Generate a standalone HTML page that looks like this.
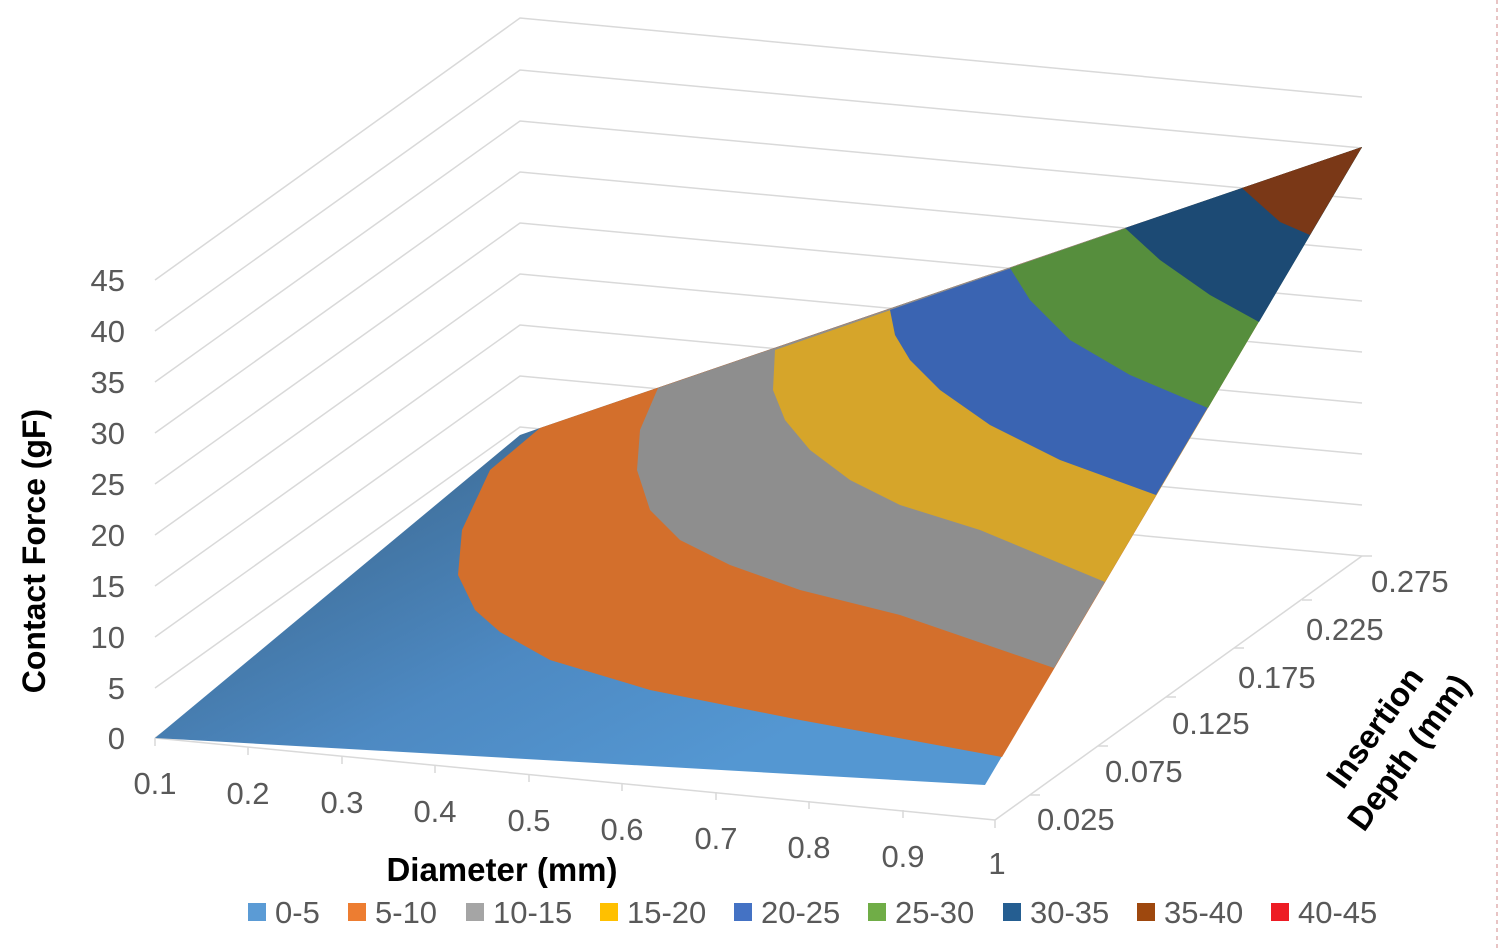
<!DOCTYPE html>
<html><head><meta charset="utf-8"><style>
body{margin:0;background:#fff}
svg{display:block}
text{font-family:"Liberation Sans",sans-serif}
</style></head><body>
<svg width="1500" height="948" viewBox="0 0 1500 948" xmlns="http://www.w3.org/2000/svg">
<defs>
<linearGradient id="bl" x1="520" y1="435" x2="700" y2="780" gradientUnits="userSpaceOnUse">
<stop offset="0" stop-color="#41729f"/><stop offset="0.5" stop-color="#4d89c2"/><stop offset="1" stop-color="#5497d2"/>
</linearGradient>
</defs>
<g stroke="#d9d9d9" stroke-width="1.5" fill="none">
<polyline points="155,280 520,18 1362,97"/>
<polyline points="155,331 520,70 1362,148"/>
<polyline points="155,382 520,121 1362,199"/>
<polyline points="155,433 520,172 1362,250"/>
<polyline points="155,484 520,223 1362,301"/>
<polyline points="155,535 520,274 1362,352"/>
<polyline points="155,586 520,325 1362,403"/>
<polyline points="155,637 520,376 1362,454"/>
<polyline points="155,688 520,427 1362,505"/>
<polyline points="155,738 520,478 1362,556"/>
<line x1="155" y1="738" x2="995" y2="820"/>
<line x1="995" y1="820" x2="1362" y2="556"/>
<path d="M155,738v8M248,747v8M342,756v8M435,765v8M529,774v8M622,783v8M716,792v8M809,801v8M903,810v8M995,820v8"/>
<path d="M1030,795h10M1098,746h10M1166,697h10M1234,648h10M1302,600h10M1362,556h10"/>
</g>
<!-- surface -->
<polygon points="155,738 520,435 540,428 1362,147 985,785" fill="url(#bl)"/>
<polygon points="540,428 490,470 462,530 458,575 475,610 500,632 550,660 650,690 800,720 1002,757 1362,147" fill="#d36f2c"/>
<polygon points="658,388 640,430 637,470 650,510 680,540 730,565 800,590 900,615 1054,668 1362,147" fill="#8e8e8e"/>
<polygon points="775,350 773,390 785,420 810,450 850,480 900,505 980,530 1105,582 1362,147" fill="#d6a52a"/>
<polygon points="890,310 895,335 910,360 940,390 990,425 1060,460 1156,495 1362,147" fill="#3a64b2"/>
<polygon points="1010,268 1030,300 1070,340 1130,375 1208,408 1362,147" fill="#568e3d"/>
<polygon points="1125,228 1160,260 1210,295 1259,322 1362,147" fill="#1c4a74"/>
<polygon points="1242,188 1280,222 1310,235 1362,147" fill="#7a3817"/>
<!-- y labels -->
<g font-size="31" fill="#595959" text-anchor="end">
<text x="125" y="291">45</text><text x="125" y="342">40</text><text x="125" y="393">35</text>
<text x="125" y="444">30</text><text x="125" y="495">25</text><text x="125" y="546">20</text>
<text x="125" y="597">15</text><text x="125" y="648">10</text><text x="125" y="699">5</text>
<text x="125" y="749">0</text>
</g>
<g font-size="31" fill="#595959" text-anchor="middle">
<text x="155" y="794">0.1</text><text x="248" y="804">0.2</text><text x="342" y="813">0.3</text>
<text x="435" y="822">0.4</text><text x="529" y="831">0.5</text><text x="622" y="840">0.6</text>
<text x="716" y="849">0.7</text><text x="809" y="858">0.8</text><text x="903" y="867">0.9</text>
<text x="997" y="874">1</text>
</g>
<g font-size="31" fill="#595959">
<text x="1037" y="830">0.025</text><text x="1105" y="782">0.075</text><text x="1172" y="734">0.125</text>
<text x="1238" y="688">0.175</text><text x="1306" y="640">0.225</text><text x="1371" y="592">0.275</text>
</g>
<text transform="translate(45,551) rotate(-90)" font-size="32" font-weight="bold" text-anchor="middle" fill="#000">Contact Force (gF)</text>
<text x="502" y="881" font-size="33" font-weight="bold" text-anchor="middle" fill="#000">Diameter (mm)</text>
<g transform="translate(1392,740) rotate(-54)" font-size="33" font-weight="bold" text-anchor="middle" fill="#000">
<text x="0" y="-10">Insertion</text><text x="0" y="32">Depth (mm)</text>
</g>
<!-- legend -->
<g font-size="31" fill="#595959">
<rect x="248" y="903" width="18" height="18" fill="#5b9bd5"/><text x="275" y="923">0-5</text>
<rect x="348" y="903" width="18" height="18" fill="#ed7d31"/><text x="375" y="923">5-10</text>
<rect x="466" y="903" width="18" height="18" fill="#a5a5a5"/><text x="493" y="923">10-15</text>
<rect x="600" y="903" width="18" height="18" fill="#ffc000"/><text x="627" y="923">15-20</text>
<rect x="734" y="903" width="18" height="18" fill="#4472c4"/><text x="761" y="923">20-25</text>
<rect x="868" y="903" width="18" height="18" fill="#70ad47"/><text x="895" y="923">25-30</text>
<rect x="1003" y="903" width="18" height="18" fill="#255e91"/><text x="1030" y="923">30-35</text>
<rect x="1137" y="903" width="18" height="18" fill="#9e480e"/><text x="1164" y="923">35-40</text>
<rect x="1271" y="903" width="18" height="18" fill="#ed1c24"/><text x="1298" y="923">40-45</text>
</g>
<line x1="1497" y1="0" x2="1497" y2="948" stroke="#e0b0b0" stroke-width="1.5" stroke-dasharray="4,4"/>
</svg>
</body></html>
